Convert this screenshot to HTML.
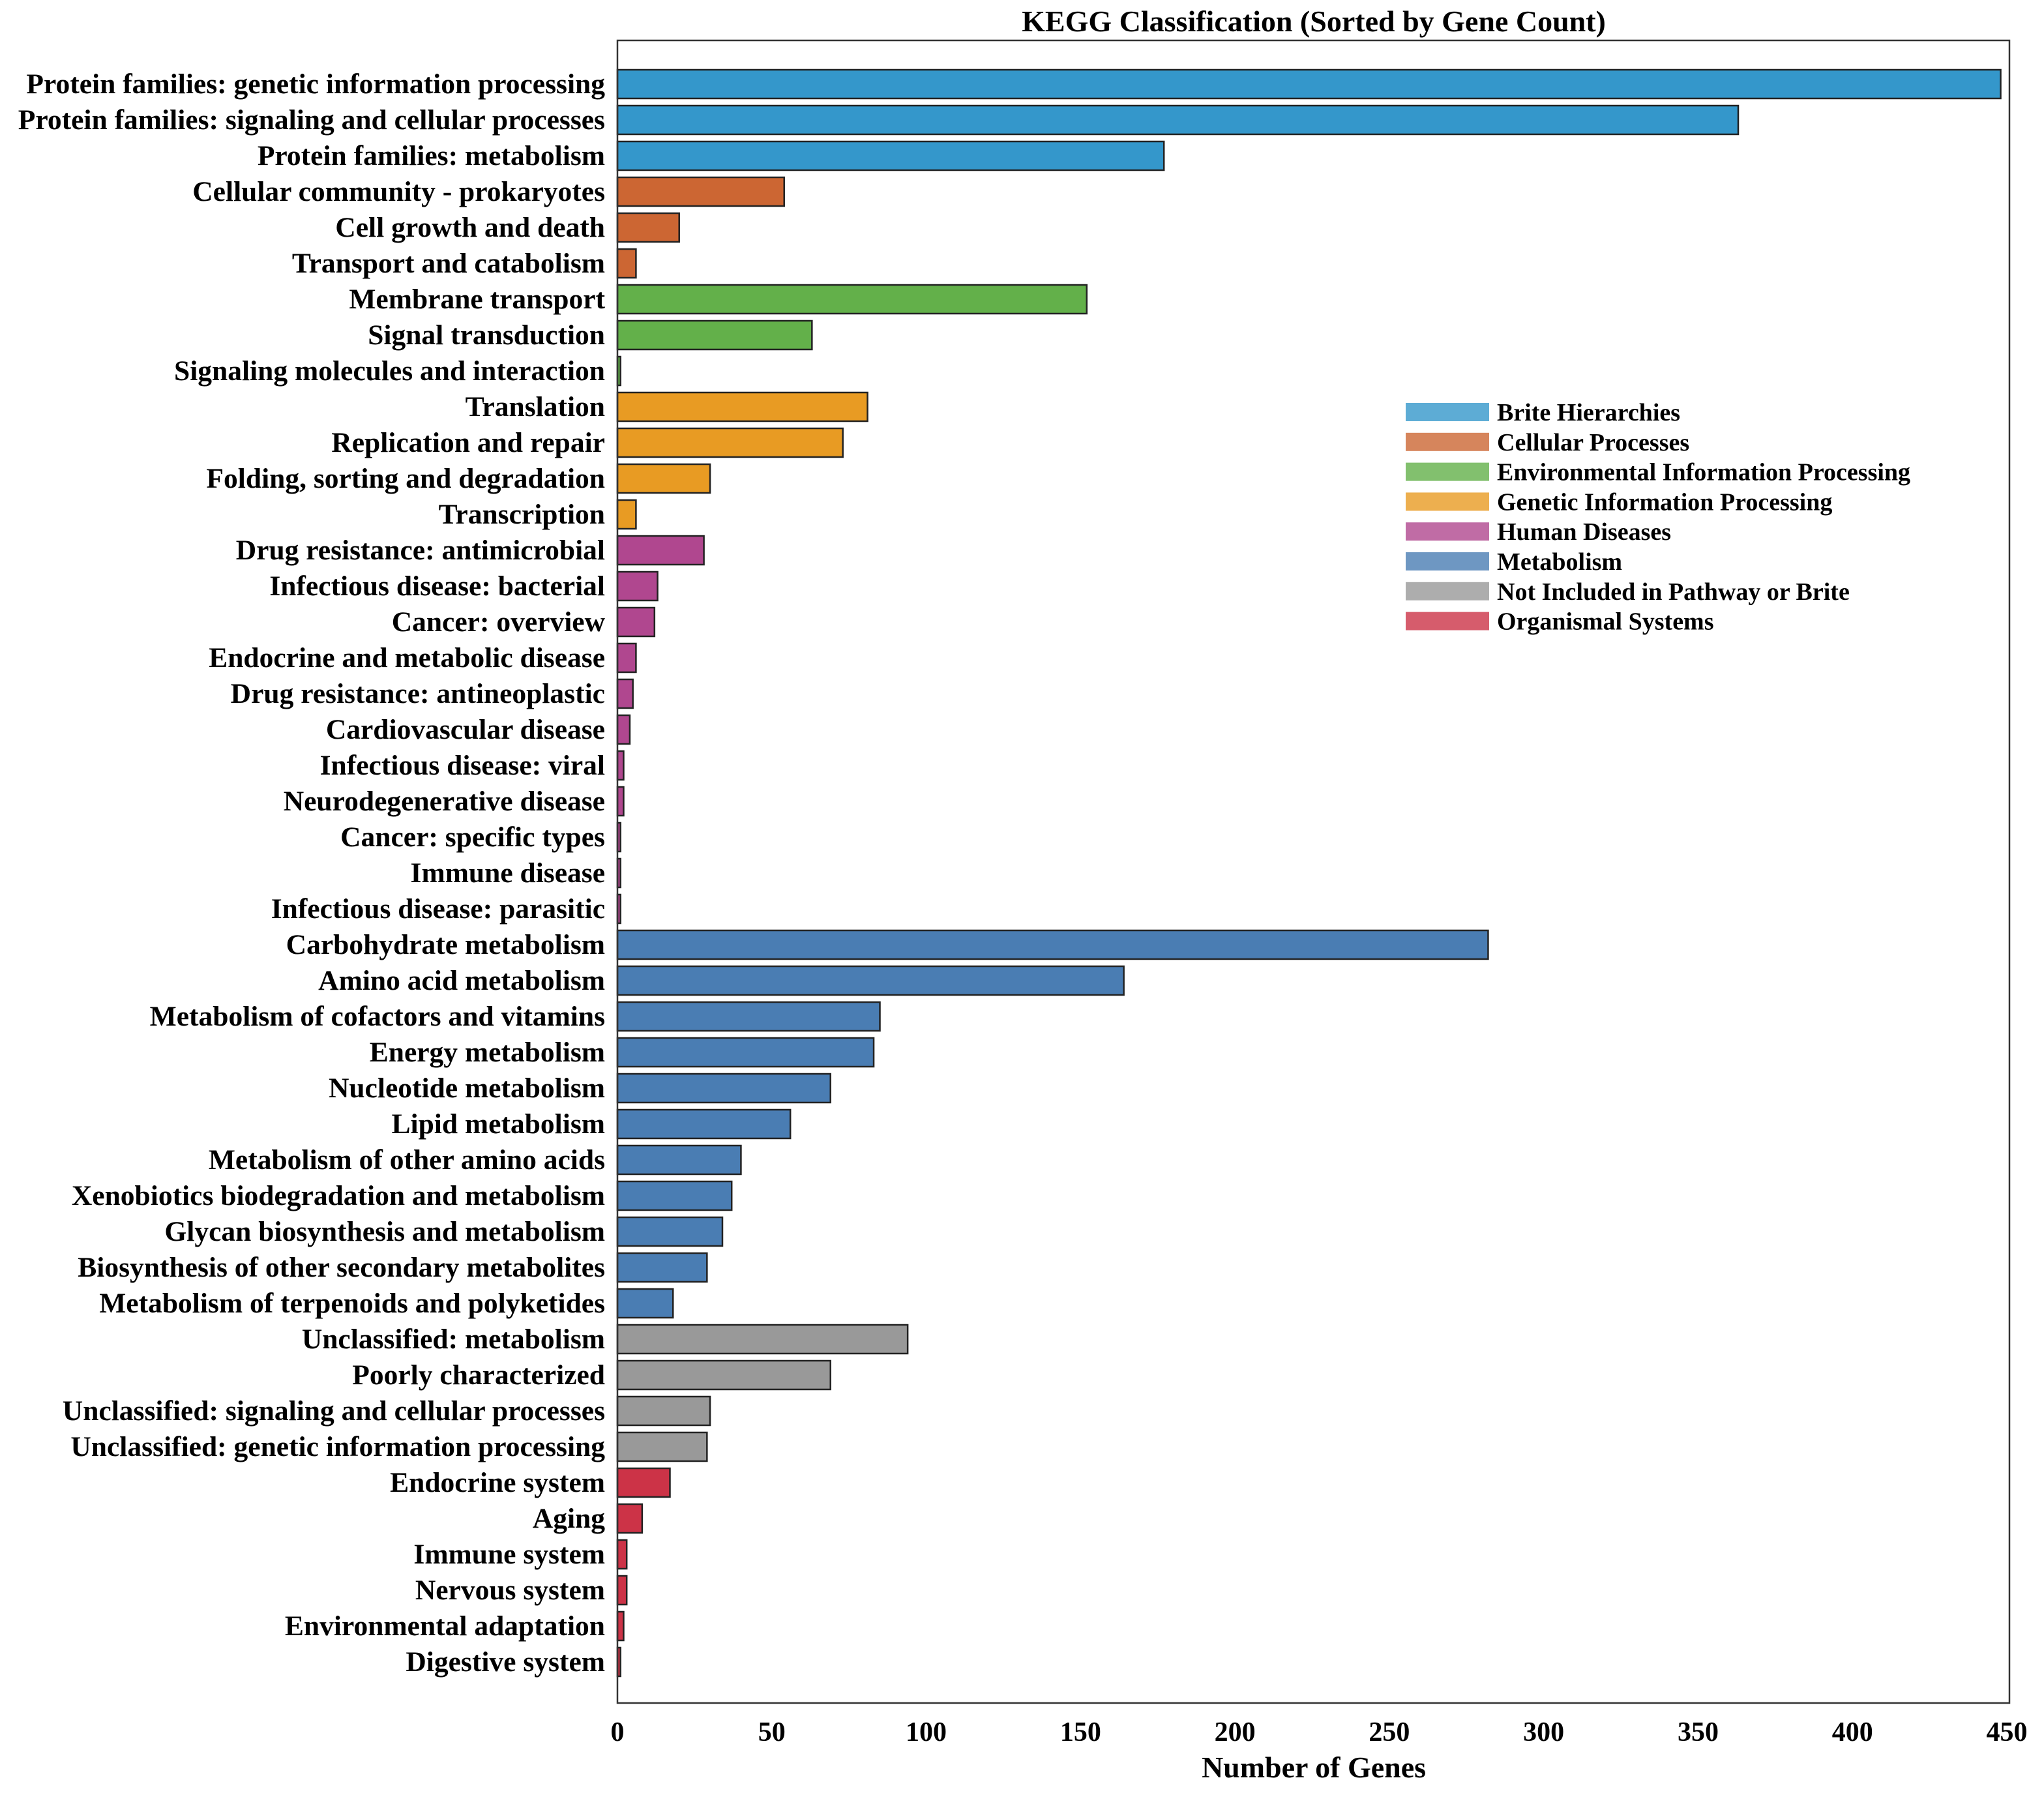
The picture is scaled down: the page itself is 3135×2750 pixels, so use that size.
<!DOCTYPE html>
<html><head><meta charset="utf-8"><style>
body{margin:0;background:#fff}
svg{display:block;font-family:"Liberation Serif",serif;font-weight:bold}
</style></head><body>
<svg id="chart" width="3135" height="2750" viewBox="0 0 3135 2750" xmlns="http://www.w3.org/2000/svg">
<rect width="3135" height="2750" fill="#fff"/>
<text x="2015" y="48" font-size="46" text-anchor="middle">KEGG Classification (Sorted by Gene Count)</text>
<g id="bars"></g>
<g id="ylabels"></g>
<g id="xticks"></g>
<rect x="947" y="62" width="2135" height="2550" fill="none" stroke="#333" stroke-width="2.5"/>
<text x="2015" y="2726" font-size="46" text-anchor="middle">Number of Genes</text>
<g id="legend"></g>
</svg>
<script>
const categories=["Protein families: genetic information processing","Protein families: signaling and cellular processes","Protein families: metabolism","Cellular community - prokaryotes","Cell growth and death","Transport and catabolism","Membrane transport","Signal transduction","Signaling molecules and interaction","Translation","Replication and repair","Folding, sorting and degradation","Transcription","Drug resistance: antimicrobial","Infectious disease: bacterial","Cancer: overview","Endocrine and metabolic disease","Drug resistance: antineoplastic","Cardiovascular disease","Infectious disease: viral","Neurodegenerative disease","Cancer: specific types","Immune disease","Infectious disease: parasitic","Carbohydrate metabolism","Amino acid metabolism","Metabolism of cofactors and vitamins","Energy metabolism","Nucleotide metabolism","Lipid metabolism","Metabolism of other amino acids","Xenobiotics biodegradation and metabolism","Glycan biosynthesis and metabolism","Biosynthesis of other secondary metabolites","Metabolism of terpenoids and polyketides","Unclassified: metabolism","Poorly characterized","Unclassified: signaling and cellular processes","Unclassified: genetic information processing","Endocrine system","Aging","Immune system","Nervous system","Environmental adaptation","Digestive system"];
const values=[448,363,177,54,20,6,152,63,1,81,73,30,6,28,13,12,6,5,4,2,2,1,1,1,282,164,85,83,69,56,40,37,34,29,18,94,69,30,29,17,8,3,3,2,1];
const groups=[0,0,0,1,1,1,2,2,2,3,3,3,3,4,4,4,4,4,4,4,4,4,4,4,5,5,5,5,5,5,5,5,5,5,5,6,6,6,6,7,7,7,7,7,7];
const groupNames=["Brite Hierarchies","Cellular Processes","Environmental Information Processing","Genetic Information Processing","Human Diseases","Metabolism","Not Included in Pathway or Brite","Organismal Systems"];
const groupColors=["#3497cb","#cc6633","#63b04a","#e89b23","#b0478f","#4a7db3","#999999","#cc3347"];
const xTicks=[0,50,100,150,200,250,300,350,400,450];
const NS="http://www.w3.org/2000/svg";
const X0=947,X1=3078,XMAX=450,Y0=129,STEP=55,BH=44;
function xs(v){return X0+(X1-X0)*v/XMAX;}
function ys(i){return Y0+STEP*i;}
function mk(tag,attrs,parent){const e=document.createElementNS(NS,tag);for(const k in attrs)e.setAttribute(k,attrs[k]);parent.appendChild(e);return e;}
const gb=document.getElementById('bars'),gl=document.getElementById('ylabels'),gx=document.getElementById('xticks'),lg=document.getElementById('legend');
categories.forEach((c,i)=>{
  const r=mk('rect',{x:xs(0),y:ys(i)-BH/2,width:xs(values[i])-xs(0),height:BH,fill:groupColors[groups[i]],stroke:'#222','stroke-width':2.5},gb);
  
  
  const t=mk('text',{x:928,y:ys(i)+14,'font-size':43.5,'text-anchor':'end'},gl);
  t.textContent=c;
  
  
});
xTicks.forEach(v=>{
  const t=mk('text',{x:xs(v),y:2670,'font-size':42,'text-anchor':'middle'},gx);
  t.textContent=v;
  
  
});
groupNames.forEach((n,i)=>{
  const y=632+i*45.8;
  const p=mk('rect',{x:2156,y:y-14,width:128,height:28,fill:groupColors[i],'fill-opacity':0.8},lg);
  
  
  const t=mk('text',{x:2296,y:y+13,'font-size':38},lg);
  t.textContent=n;
  
  
});
</script>
</body></html>
